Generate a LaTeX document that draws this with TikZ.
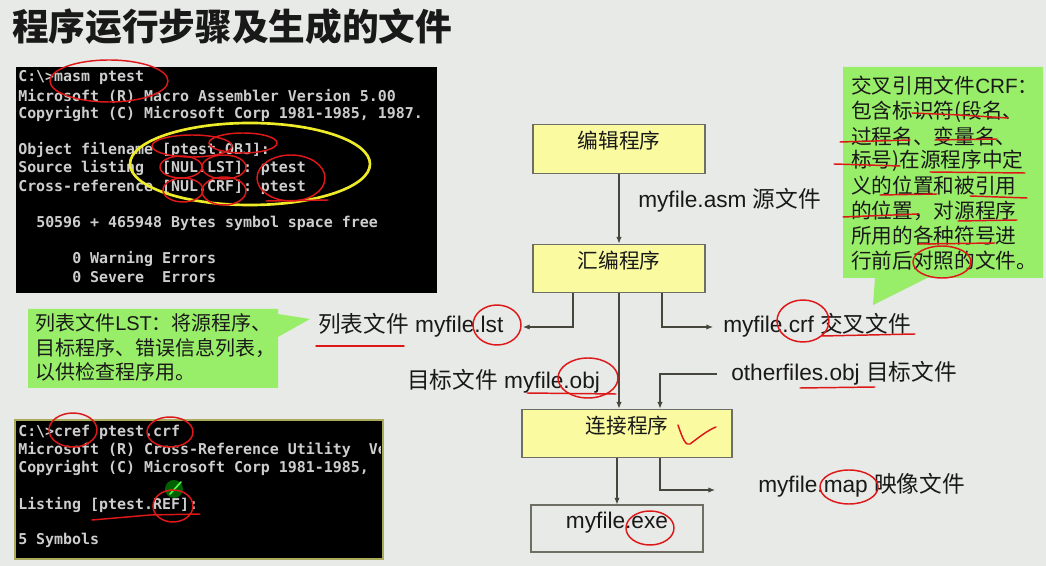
\documentclass[tikz,border=0pt]{standalone}
\usepackage{fontspec}
\setmainfont{Liberation Sans}
\newfontfamily\cjk{Noto Sans CJK SC}
\newfontfamily\mono{DejaVu Sans Mono}
\usetikzlibrary{arrows.meta}

\definecolor{bg}{RGB}{232,234,231}
\definecolor{notegreen}{RGB}{152,238,104}
\definecolor{boxfill}{RGB}{250,250,160}
\definecolor{boxline}{RGB}{110,110,100}
\definecolor{wire}{RGB}{70,70,60}
\definecolor{ink}{RGB}{25,25,25}
\definecolor{pen}{RGB}{222,24,24}
\definecolor{termtxt}{RGB}{205,205,205}
\definecolor{hilite}{RGB}{238,236,40}
\definecolor{termedge}{RGB}{170,170,90}

\tikzset{
  flowbox/.style={draw=boxline, fill=boxfill, line width=0.8pt,
    minimum width=129pt, minimum height=36.5pt, inner sep=0pt,
    text height=0.6em, text depth=0.6em,
    font=\cjk\fontsize{15.5}{18}\selectfont, text=ink},
  filebox/.style={flowbox, fill=bg, font=\fontsize{17}{20}\selectfont},
  wirearrow/.style={draw=wire, line width=0.8pt, -{Latex[length=5pt,width=4pt]}},
  filelabel/.style={anchor=west, inner sep=0pt, text=ink,
    font=\fontsize{17}{20}\selectfont},
  termline/.style={anchor=west, inner sep=0pt, text=termtxt,
    font=\mono\bfseries\fontsize{11.2}{13}\selectfont},
  noteline/.style={anchor=west, inner sep=0pt, text=ink,
    font=\cjk\fontsize{15}{18}\selectfont},
  marker/.style={draw=pen, line width=1.1pt, line cap=round, line join=round},
}

\begin{document}
\begin{tikzpicture}[x=0.75pt, y=-0.75pt]
  % canvas
  \fill[bg] (0,0) rectangle (1046,566);
  \useasboundingbox (0,0) rectangle (1046,566);

  % heading
  \node[anchor=west, inner sep=0pt, text=ink,
        font=\cjk\bfseries\fontsize{27.5}{30}\selectfont] (title) at (12,27)
        {程序运行步骤及生成的文件};

  % ---------- assembler console ----------
  \fill[black] (16,67) rectangle (437,293);
  \node[termline] (t1) at (18,78)  {C:\textbackslash{}>masm ptest};
  \node[termline] (t2) at (18,96)  {Microsoft (R) Macro Assembler Version 5.00};
  \node[termline] (t3) at (18,114) {Copyright (C) Microsoft Corp 1981-1985, 1987.};
  \node[termline] (t4) at (18,150) {Object filename [ptest.OBJ]:};
  \node[termline] (t5) at (18,168) {Source listing\ \ [NUL.LST]: ptest};
  \node[termline] (t6) at (18,187) {Cross-reference [NUL.CRF]: ptest};
  \node[termline] (t7) at (36,223) {50596 + 465948 Bytes symbol space free};
  \node[termline] (t8) at (72,259) {0 Warning Errors};
  \node[termline] (t9) at (72,277) {0 Severe\ \ Errors};
  \draw[hilite, line width=2pt] (250,164) ellipse [x radius=120, y radius=41];

  % ---------- cross-reference console ----------
  \fill[black] (15,420) rectangle (383,559);
  \draw[termedge, line width=0.8pt] (15,420) rectangle (383,559);
  \begin{scope}
    \clip (15,420) rectangle (380,559);
    \node[termline] (c1) at (18,432) {C:\textbackslash{}>cref ptest.crf};
    \node[termline] (c2) at (18,450) {Microsoft (R) Cross-Reference Utility\ \ Version};
    \node[termline] (c3) at (18,468) {Copyright (C) Microsoft Corp 1981-1985,};
    \node[termline] (c4) at (18,505) {Listing [ptest.REF]:};
    \node[termline] (c5) at (18,540) {5 Symbols};
  \end{scope}
  \fill[green!45!black, opacity=0.85] (174,489) circle [radius=9];
  \draw[green!70!white, line width=1.2pt, line cap=round] (170,494) -- (181,482);

  % ---------- callouts ----------
  \fill[notegreen] (28,309) -- (278,309) -- (278,314) -- (310,319) -- (278,337)
                   -- (278,388) -- (28,388) -- cycle;
  \node[noteline] (lst1) at (35,323) {列表文件{\rmfamily LST}：将源程序、};
  \node[noteline] (lst2) at (35,348) {目标程序、错误信息列表，};
  \node[noteline] (lst3) at (35,372) {以供检查程序用。};

  \fill[notegreen] (843,67) -- (1043,67) -- (1043,278) -- (927,278) -- (873,305)
                   -- (875,278) -- (843,278) -- cycle;
  \begin{scope}[every node/.style={noteline, font=\cjk\fontsize{15.5}{18}\selectfont}]
    \node (crf1) at (851,86)  {交叉引用文件{\rmfamily CRF}：};
    \node (crf2) at (851,112) {包含标识符(段名、};
    \node (crf3) at (851,137) {过程名、变量名、};
    \node (crf4) at (851,161) {标号)在源程序中定};
    \node (crf5) at (851,186) {义的位置和被引用};
    \node (crf6) at (851,211) {的位置，对源程序};
    \node (crf7) at (851,236) {所用的各种符号进};
    \node (crf8) at (851,261) {行前后对照的文件。};
  \end{scope}

  % ---------- flow of programs ----------
  \node[flowbox] (edit) at (619,149) {编辑程序};
  \node[flowbox] (asm)  at (619,268.5) {汇编程序};
  \node[flowbox, minimum width=157.5pt] (link) at (627,433.5) {连接程序};
  \node[filebox, minimum height=35.25pt] (exe) at (617,528.5) {myfile.exe};

  \node[filelabel] (srcfile)   at (638,200) {myfile.asm {\cjk 源文件}};
  \node[filelabel] (lstfile)   at (318,325) {{\cjk 列表文件} myfile.lst};
  \node[filelabel] (crffile)   at (723,325) {myfile.crf {\cjk 交叉文件}};
  \node[filelabel] (objfile)   at (407,381) {{\cjk 目标文件} myfile.obj};
  \node[filelabel] (otherfile) at (731,373) {otherfiles.obj {\cjk 目标文件}};
  \node[filelabel] (mapfile)   at (758,485) {myfile.map {\cjk 映像文件}};

  \coordinate (lstin)   at (523,327);
  \coordinate (crfin)   at (713,327);
  \coordinate (otherout) at (717,374);
  \coordinate (mapin)   at (715,490);

  \draw[wirearrow] (edit) -- (asm);
  \draw[wirearrow] (asm.south) -- (asm.south |- link.north);
  \draw[wirearrow] ([xshift=-34.5pt]asm.south) |- (lstin);
  \draw[wirearrow] ([xshift=32.25pt]asm.south) |- (crfin);
  \draw[wirearrow] (otherout) -| ([xshift=24.75pt]link.north);
  \draw[wirearrow] (exe.north |- link.south) -- (exe.north);
  \draw[wirearrow] ([xshift=24.75pt]link.south) |- (mapin);

  % ---------- hand-drawn pen marks ----------
  % assembler console
  \draw[marker] (109,81) ellipse [x radius=59, y radius=21];
  \draw[marker] (192,146) ellipse [x radius=40, y radius=11];
  \draw[marker] (243,143) ellipse [x radius=34, y radius=10];
  \draw[marker] (181,167) ellipse [x radius=21, y radius=11];
  \draw[marker] (224,167) ellipse [x radius=22, y radius=12];
  \draw[marker] (183,190) ellipse [x radius=20, y radius=12];
  \draw[marker] (224,191) ellipse [x radius=22, y radius=14];
  \draw[marker] (291,178) ellipse [x radius=34, y radius=23];
  \draw[marker] (266,201) -- (328,200);
  % cross-reference console
  \draw[marker] (73,430) ellipse [x radius=24, y radius=17];
  \draw[marker] (170,432) ellipse [x radius=23, y radius=15];
  \draw[marker] (173,506) ellipse [x radius=20, y radius=16];
  \draw[marker] (92,520) -- (150,515) -- (200,514);
  % file labels
  \draw[marker] (316,346) -- (404,346);
  \draw[marker] (497,325) ellipse [x radius=24, y radius=20];
  \draw[marker] (803,321) ellipse [x radius=26, y radius=21];
  \draw[marker] (822,336) -- (915,334);
  \draw[marker] (588,378) ellipse [x radius=30, y radius=20];
  \draw[marker] (527,393) -- (616,394);
  \draw[marker] (800,388) -- (875,387);
  \draw[marker] (678,425) .. controls (683,440) and (686,446) .. (690,444)
                .. controls (698,438) and (708,430) .. (716,427);
  \draw[marker] (849,487) ellipse [x radius=29, y radius=17];
  \draw[marker] (650,528) ellipse [x radius=24, y radius=17];
  % cross-reference note
  \draw[marker] (912,113) -- (960,115) -- (1008,118);
  \draw[marker] (840,142) -- (910,140);
  \draw[marker] (935,140) -- (997,139);
  \draw[marker] (834,164) -- (900,166);
  \draw[marker] (930,172) -- (1025,173);
  \draw[marker] (880,195) -- (937,194);
  \draw[marker] (970,196) -- (1027,198);
  \draw[marker] (843,217) -- (918,214);
  \draw[marker] (958,221) -- (1017,220);
  \draw[marker] (918,244) -- (995,243);
  \draw[marker] (942,262) ellipse [x radius=29, y radius=16];
\end{tikzpicture}
\end{document}
